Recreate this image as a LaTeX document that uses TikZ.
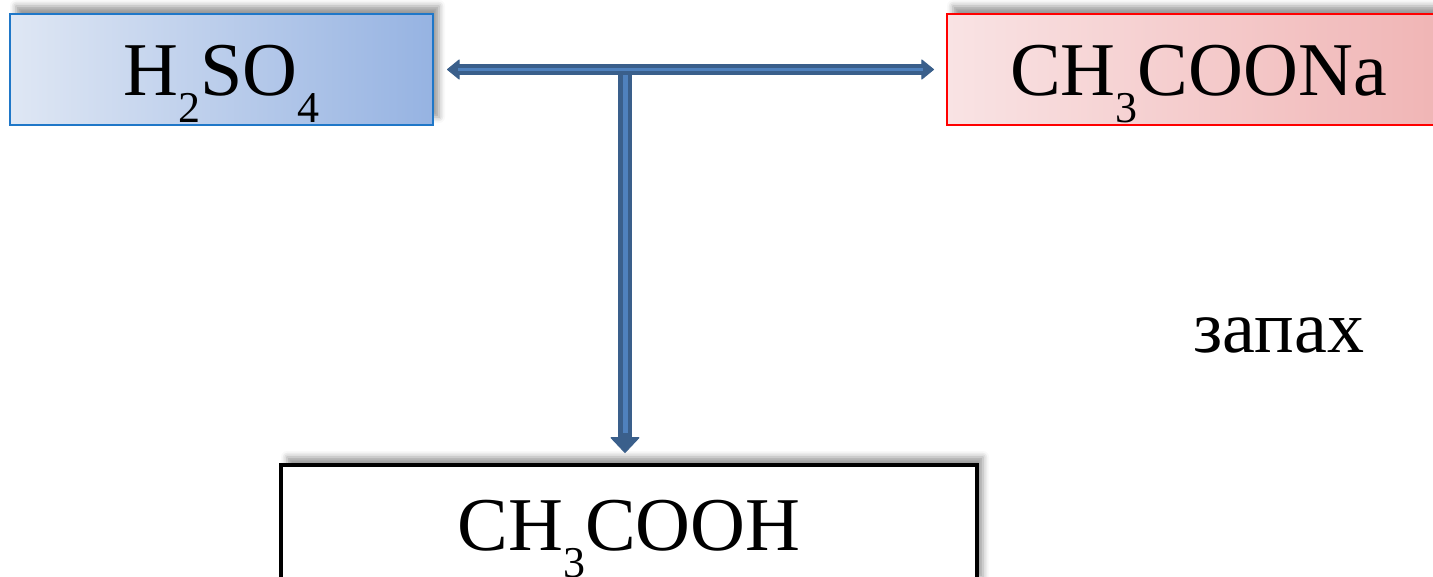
\documentclass[tikz,border=0pt]{standalone}
\usepackage{fontspec}
\setmainfont{Liberation Serif}
\usetikzlibrary{arrows.meta,shadows.blur}
\definecolor{arrowdark}{RGB}{58,95,139}
\definecolor{arrowlight}{RGB}{79,129,189}
\newcommand\chsub[1]{\raisebox{-27pt}{\fontsize{44}{44}\selectfont #1}}

\begin{document}
\begin{tikzpicture}[x=1pt,y=-1pt,
  formula/.style={inner sep=0pt,text height=55pt,text depth=4pt,font=\fontsize{76}{80}\selectfont,
    blur shadow={shadow xshift=6pt,shadow yshift=8pt,shadow blur radius=6pt,shadow opacity=40}},
  acidbox/.style={draw={rgb,255:red,31;green,119;blue,200},line width=2pt,
    left color={rgb,255:red,223;green,231;blue,244},right color={rgb,255:red,150;green,179;blue,226}},
  saltbox/.style={draw=red,line width=2pt,
    left color={rgb,255:red,249;green,227;blue,228},right color={rgb,255:red,240;green,180;blue,180}},
  productbox/.style={draw=black,line width=4pt,fill=white},
  darkshaft/.style={draw=arrowdark,fill=arrowdark},
  lightcore/.style={draw=arrowlight}]
  \useasboundingbox (0,0) rectangle (1433,576);
  % исходные вещества и продукт
  \node[formula,acidbox,minimum width=423pt,minimum height=111pt] (h2so4) at (221.5,69.5) {H\chsub{2}SO\chsub{4}};
  \node[formula,saltbox,minimum width=503pt,minimum height=111pt] (ch3coona) at (1198.5,69.5) {CH\chsub{3}COONa};
  \node[formula,productbox,minimum width=696pt,minimum height=120pt] (ch3cooh) at (629,525) {CH\chsub{3}COOH};
  \node[font=\fontsize{74}{78}\selectfont,anchor=base] (smell) at (1279,352) {запах};
  % стрелки
  \coordinate (junction) at (625,69.5);
  \draw[darkshaft,line width=14pt,-{Triangle[width=30pt,length=16pt,line width=1pt,round]},shorten >=10pt]
    (junction) -- (junction |- ch3cooh.north);
  \draw[lightcore,line width=5pt,shorten >=30pt] (junction) -- (junction |- ch3cooh.north);
  \draw[darkshaft,line width=11pt,{Triangle[width=21pt,length=13pt,line width=1pt,round]}-{Triangle[width=21pt,length=13pt,line width=1pt,round]},
    shorten <=13pt,shorten >=12pt] (h2so4) -- (ch3coona);
  \draw[lightcore,line width=3pt,shorten <=24pt,shorten >=23pt] (h2so4) -- (ch3coona);
\end{tikzpicture}
\end{document}
